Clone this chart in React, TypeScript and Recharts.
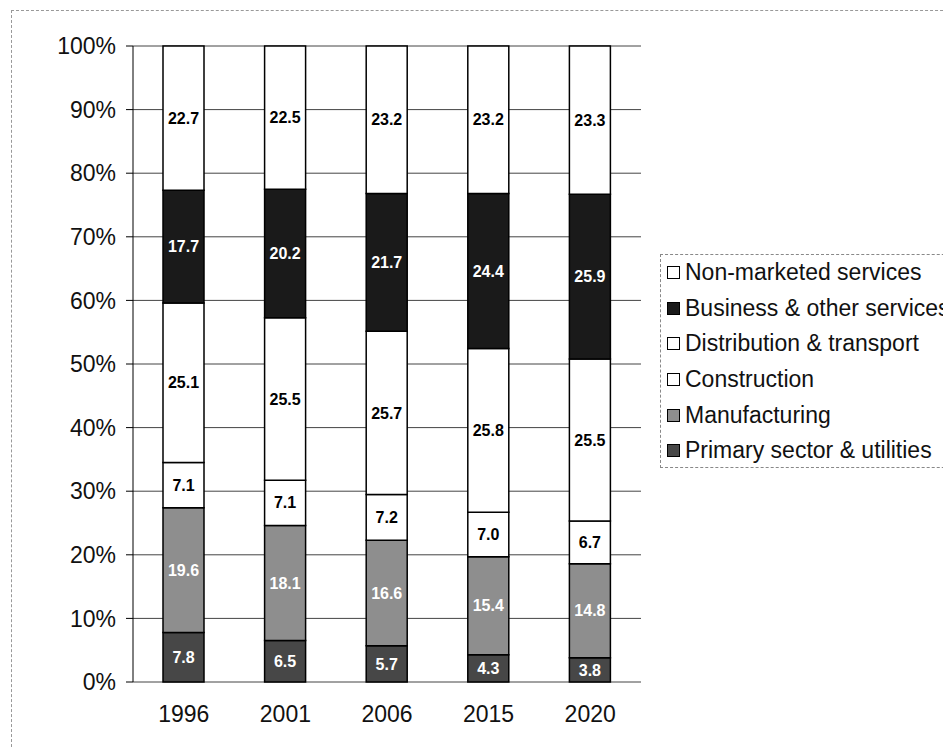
import React from "react";
import {
  BarChart,
  Bar,
  XAxis,
  YAxis,
  CartesianGrid,
  LabelList,
} from "recharts";

const years = ["1996", "2001", "2006", "2015", "2020"];
const primary = [7.8, 6.5, 5.7, 4.3, 3.8];
const manufacturing = [19.6, 18.1, 16.6, 15.4, 14.8];
const construction = [7.1, 7.1, 7.2, 7.0, 6.7];
const distribution = [25.1, 25.5, 25.7, 25.8, 25.5];
const business = [17.7, 20.2, 21.7, 24.4, 25.9];
const nonMarketed = [22.7, 22.5, 23.2, 23.2, 23.3];
const yTicks = [0, 0.1, 0.2, 0.3, 0.4, 0.5, 0.6, 0.7, 0.8, 0.9, 1];

const series = [
  { key: "primary", name: "Primary sector & utilities", fill: "#474747", text: "#fff" },
  { key: "manufacturing", name: "Manufacturing", fill: "#8e8e8e", text: "#fff" },
  { key: "construction", name: "Construction", fill: "#ffffff", text: "#000" },
  { key: "distribution", name: "Distribution & transport", fill: "#ffffff", text: "#000" },
  { key: "business", name: "Business & other services", fill: "#1a1a1a", text: "#fff" },
  { key: "nonMarketed", name: "Non-marketed services", fill: "#ffffff", text: "#000" },
];

const data = years.map((year, i) => ({
  year,
  pos: i,
  primary: primary[i],
  manufacturing: manufacturing[i],
  construction: construction[i],
  distribution: distribution[i],
  business: business[i],
  nonMarketed: nonMarketed[i],
}));

const font = "'Liberation Sans', Arial, sans-serif";

function LegendBox() {
  const items = [...series].reverse();
  return (
    <div
      style={{
        position: "absolute",
        left: 652,
        top: 246,
        width: 320,
        height: 214,
        border: "1px dashed #888",
        fontFamily: font,
        fontSize: 23,
        color: "#111",
        paddingTop: 0,
        boxSizing: "border-box",
      }}
    >
      {items.map((s) => (
        <div
          key={s.key}
          style={{ display: "flex", alignItems: "center", height: 35.6, whiteSpace: "nowrap" }}
        >
          <span
            style={{
              display: "inline-block",
              width: 11,
              height: 11,
              marginLeft: 6,
              marginRight: 5,
              border: "1px solid #000",
              background: s.fill,
            }}
          />
          {s.name}
        </div>
      ))}
    </div>
  );
}

export default function App() {
  return (
    <div style={{ position: "relative", width: 943, height: 739, overflow: "hidden" }}>
      <div
        style={{
          position: "absolute",
          left: 3,
          top: 2,
          width: 960,
          height: 760,
          border: "1px dashed #999",
        }}
      />
      <BarChart
        width={943}
        height={739}
        data={data}
        stackOffset="expand"
        margin={{ top: 38, right: 310, bottom: 5, left: 0 }}
        style={{ position: "absolute", left: 0, top: 0, fontFamily: font }}
      >
        <CartesianGrid vertical={false} stroke="#444" strokeWidth={1} />
        <XAxis
          dataKey="year"
          height={60}
          axisLine={false}
          tickLine={false}
          tick={{ fontSize: 23, fill: "#111" }}
          tickMargin={18}
        />
        <XAxis
          xAxisId="bounds"
          type="number"
          dataKey="pos"
          domain={[0, 5]}
          ticks={[0, 1, 2, 3, 4, 5]}
          height={0}
          stroke="#000"
          tickSize={7}
          tickFormatter={() => ""}
        />
        <YAxis
          width={125}
          domain={[0, 1]}
          ticks={yTicks}
          tickFormatter={(v) => `${Math.round(v * 100)}%`}
          tick={{ fontSize: 23, fill: "#111" }}
          stroke="#000"
          tickSize={7}
          tickMargin={10}
        />
        <YAxis
          yAxisId="frame"
          orientation="right"
          width={0}
          tick={false}
          stroke="#aaa"
          strokeDasharray="2 2"
        />
        {series.map((s) => (
          <Bar
            key={s.key}
            dataKey={s.key}
            name={s.name}
            stackId="a"
            fill={s.fill}
            stroke="#000"
            strokeWidth={1.5}
            barSize={41}
            isAnimationActive={false}
          >
            <LabelList
              dataKey={s.key}
              position="center"
              formatter={(v: number) => Number(v).toFixed(1)}
              style={{ fontSize: 16, fontWeight: "bold", fill: s.text, fontFamily: font }}
            />
          </Bar>
        ))}
      </BarChart>
      <LegendBox />
    </div>
  );
}
